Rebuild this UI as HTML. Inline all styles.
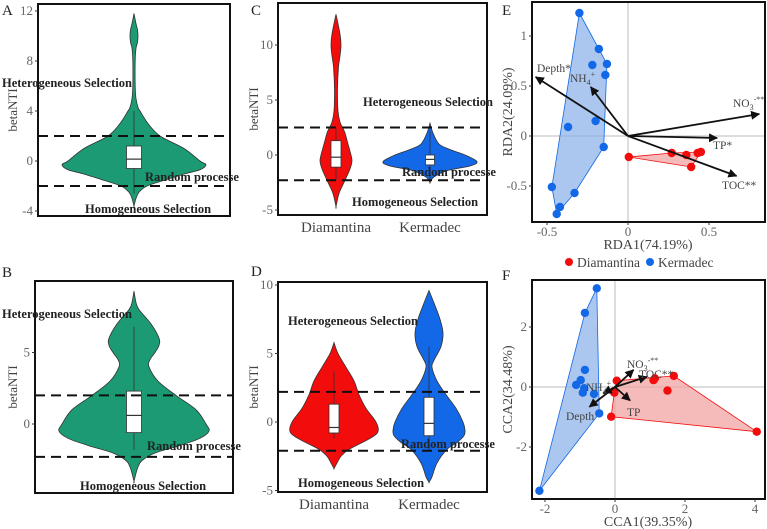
<!DOCTYPE html>
<html><head><meta charset="utf-8">
<style>
html,body{margin:0;padding:0;background:#fff;}
svg{display:block;font-family:"Liberation Serif",serif;}
.tick{font-size:13px;fill:#666;}
.ann{font-size:12.5px;font-weight:bold;fill:#222;}
.ttl{font-size:13px;fill:#444;}
.plab{font-size:15px;fill:#222;}
</style></head>
<body>
<svg id="fig" width="767" height="529" viewBox="0 0 767 529" xmlns="http://www.w3.org/2000/svg">
<defs>
<marker id="ah" viewBox="0 0 10 10" refX="9" refY="5" markerWidth="5" markerHeight="5" orient="auto"><path d="M0,0 L10,5 L0,10 z" fill="#111"/></marker>
</defs>
<g id="root"></g>
</svg>
<script>
// ---------- violin data (value, density) ----------
const violinA = [[11.8,0],[11,2],[10.5,3.5],[10,4],[9.5,3.5],[9,2],[8,1.2],[6,1.2],[5,2],[4.3,4],[4,6],[3,14],[2,26],[1,50],[0,66],[-0.3,72],[-0.7,66],[-1,52],[-1.5,32],[-2,13],[-2.5,5],[-3,2],[-3.6,0]];
const boxA = [-2.6, -0.6, 0.15, 1.2, 4.0];
const violinB = [[9.3,0],[8.5,2],[8,5],[7,17],[6,25],[5.5,25],[5,21],[4.5,16],[4,15],[3,24],[2,42],[1,62],[0,72],[-0.5,75],[-1,66],[-1.5,46],[-2,22],[-2.5,9],[-3,4],[-4,0]];
const boxB = [-1.8, -0.6, 0.6, 2.3, 6.8];
const categoriesCD = ["Diamantina","Kermadec"];
const violinCdia = [[12.8,0],[11,4],[10,5],[9,4],[8,2.5],[6,1.5],[4,2],[3,4],[2.4,7],[2,9],[1,12],[0,15],[-0.5,16],[-1,15],[-1.5,13],[-2.5,8],[-3.5,3],[-4.7,0]];
const boxCdia = [-2.3, -1.1, -0.2, 1.3, 2.4];
const violinCker = [[2.9,0],[2,3],[1,9],[0.5,20],[0,35],[-0.6,47],[-1,40],[-1.4,18],[-2,4],[-2.5,0]];
const boxCker = [-2.2, -0.9, -0.4, 0.0, 2.2];
const violinDdia = [[5.8,0],[5,4],[4,12],[3,20],[2,25],[1,32],[0,42],[-0.7,44],[-1.2,36],[-2,15],[-2.5,7],[-3,3],[-3.4,0]];
const boxDdia = [-1.2, -0.8, -0.4, 1.3, 3.7];
const violinDker = [[9.6,0],[8.5,6],[7.5,11],[6.5,14],[5.5,12],[4.5,5],[4,3],[3,8],[2,17],[1,27],[0,34],[-0.6,36],[-1,35],[-1.5,28],[-2,18],[-3,8],[-4,3],[-4.4,0]];
const boxDker = [-2.0, -1.0, -0.1, 1.8, 5.5];
// ---------- ordination data ----------
const rdaKerX = [-0.30,-0.18,-0.22,-0.13,-0.14,-0.37,-0.20,-0.15,-0.47,-0.33,-0.42,-0.44];
const rdaKerY = [1.23,0.87,0.71,0.72,0.61,0.09,0.15,-0.11,-0.51,-0.57,-0.71,-0.78];
const rdaDiaX = [0.005,0.27,0.36,0.43,0.45,0.39];
const rdaDiaY = [-0.21,-0.17,-0.19,-0.17,-0.16,-0.31];
const rdaArrowNames = ["Depth*","NH4+","NO3-**","TP*","TOC**"];
const rdaArrowX = [-0.57,-0.23,0.81,0.55,0.67];
const rdaArrowY = [0.59,0.49,0.22,-0.02,-0.40];
const ccaKerX = [-0.52,-0.86,-0.86,-0.98,-1.11,-0.88,-0.92,-0.60,-0.45,-2.16];
const ccaKerY = [3.29,2.47,0.57,0.23,0.07,-0.04,-0.19,-0.23,-0.88,-3.46];
const ccaDiaX = [0.05,-0.02,-0.11,1.10,1.14,1.68,1.50,4.05];
const ccaDiaY = [0.21,-0.19,-0.99,0.23,0.29,0.37,-0.12,-1.49];
const ccaArrowNames = ["NO3-**","TOC**","TP","Depth","NH4+"];
const ccaArrowX = [0.53,0.91,0.43,-0.73,-0.33];
const ccaArrowY = [0.57,0.34,-0.45,-0.66,-0.21];
const ticksA=[12,8,4,0,-4], ticksB=[5,0], ticksC=[10,5,0,-5], ticksD=[10,5,0,-5];
const ticksEx=[-0.5,0,0.5], ticksEy=[1,0.5,0,-0.5], ticksFx=[-2,0,2,4], ticksFy=[2,0,-2];

const NS="http://www.w3.org/2000/svg";
const root=document.getElementById('root');
function mk(tag,attrs,parent){const e=document.createElementNS(NS,tag);for(const k in attrs)e.setAttribute(k,attrs[k]);(parent||root).appendChild(e);return e;}
function txt(s,x,y,cls,anchor,parent){const t=mk('text',{x:x,y:y,class:cls,'text-anchor':anchor||'start'},parent);t.textContent=s;return t;}
function smooth(pts){let d='M'+pts[0][0]+','+pts[0][1];for(let i=0;i<pts.length-1;i++){const p0=pts[Math.max(i-1,0)],p1=pts[i],p2=pts[i+1],p3=pts[Math.min(i+2,pts.length-1)];const c1=[p1[0]+(p2[0]-p0[0])/6,p1[1]+(p2[1]-p0[1])/6],c2=[p2[0]-(p3[0]-p1[0])/6,p2[1]-(p3[1]-p1[1])/6];d+=' C'+c1[0]+','+c1[1]+' '+c2[0]+','+c2[1]+' '+p2[0]+','+p2[1];}return d;}
function hull(xs,ys){const p=xs.map((x,i)=>[x,ys[i]]).sort((a,b)=>a[0]-b[0]||a[1]-b[1]);const cr=(o,a,b)=>(a[0]-o[0])*(b[1]-o[1])-(a[1]-o[1])*(b[0]-o[0]);const lo=[],up=[];for(const q of p){while(lo.length>=2&&cr(lo[lo.length-2],lo[lo.length-1],q)<=0)lo.pop();lo.push(q);}for(const q of p.slice().reverse()){while(up.length>=2&&cr(up[up.length-2],up[up.length-1],q)<=0)up.pop();up.push(q);}return lo.slice(0,-1).concat(up.slice(0,-1));}

function violinPanel(o){
  const g=mk('g',{});
  
  
  const yS=v=>o.y0-v*o.k;
  o.series.forEach(s=>{
    const R=s.prof.map(p=>[s.cx+p[1],yS(p[0])]);
    const L=s.prof.slice().reverse().map(p=>[s.cx-p[1],yS(p[0])]);
    const v=mk('path',{d:smooth(R.concat(L))+'Z',fill:s.color,stroke:'#333','stroke-width':0.8},g);
    
    
    const b=s.box;
    const wl=mk('line',{x1:s.cx,x2:s.cx,y1:yS(b[0]),y2:yS(b[4]),stroke:'#333','stroke-width':0.8},g);
    
    
    const r=mk('rect',{x:s.cx-s.bw,y:yS(b[3]),width:2*s.bw,height:yS(b[1])-yS(b[3]),fill:'#fff',stroke:'#333','stroke-width':0.8},g);
    
    
    mk('line',{x1:s.cx-s.bw,x2:s.cx+s.bw,y1:yS(b[2]),y2:yS(b[2]),stroke:'#333','stroke-width':1.2},g);
  });
  o.dash.forEach((dv,i)=>{const l=mk('line',{x1:o.x1,x2:o.x2,y1:yS(dv),y2:yS(dv),stroke:'#111','stroke-width':2,'stroke-dasharray':'10,6'},g);
    
    });
  const fr=mk('rect',{x:o.x1,y:o.yt,width:o.x2-o.x1,height:o.yb-o.yt,fill:'none',stroke:'#111','stroke-width':2},g);
  
  
  o.ticks.forEach(t=>{mk('line',{x1:o.x1-3,x2:o.x1,y1:yS(t),y2:yS(t),stroke:'#333'},g);txt(String(t),o.x1-5,yS(t)+4,'tick','end',g);});
  const yt=txt('betaNTI',0,0,'ttl','middle',g);yt.setAttribute('transform','translate('+o.ytx+','+((o.yt+o.yb)/2)+') rotate(-90)');
  
  
  const pl=txt(o.label,o.lx,o.ly,'plab','start',g);
  
  
  o.anns.forEach(a=>{const t=txt(a[0],a[1],a[2],'ann','start',g);
    
    });
  if(o.cats){o.series.forEach((s,i)=>{const t=txt(o.cats[i],s.cx,o.yb+17,'ttl','middle',g);t.setAttribute('style','font-size:15px');
    
    });}
}
const GREEN='#1b9a74',RED='#f20c0c',BLUE='#1268e6';
violinPanel({name:'panel-a',label:'A',lx:2,ly:15,x1:38,x2:230,yt:4,yb:216,y0:161,k:12.5,ytx:17,ticks:ticksA,dash:[2,-2],
  series:[{cx:134,prof:violinA,box:boxA,bw:7.5,color:GREEN,vname:'violin-a'}],
  anns:[['Heterogeneous Selection',2,87],['Random processe',145,181],['Homogeneous Selection',85,213]]});
violinPanel({name:'panel-b',label:'B',lx:2,ly:277,x1:35,x2:233,yt:281,yb:493,y0:424,k:14.3,ytx:17,ticks:ticksB,dash:[2,-2.3],
  series:[{cx:134,prof:violinB,box:boxB,bw:7.5,color:GREEN,vname:'violin-b'}],
  anns:[['Heterogeneous Selection',2,318],['Random processe',147,450],['Homogeneous Selection',80,490]]});
violinPanel({name:'panel-c',label:'C',lx:251,ly:15,x1:278,x2:487,yt:3,yb:215,y0:155,k:11,ytx:258,ticks:ticksC,dash:[2.5,-2.3],cats:categoriesCD,
  series:[{cx:336,prof:violinCdia,box:boxCdia,bw:5,color:RED,vname:'violin-c-diamantina'},{cx:430,prof:violinCker,box:boxCker,bw:4.5,color:BLUE,vname:'violin-c-kermadec'}],
  anns:[['Heterogeneous Selection',363,106],['Random processe',402,176],['Homogeneous Selection',352,206]]});
violinPanel({name:'panel-d',label:'D',lx:251,ly:276,x1:278,x2:487,yt:282,yb:492,y0:422,k:13.7,ytx:258,ticks:ticksD,dash:[2.2,-2.1],cats:categoriesCD,
  series:[{cx:334,prof:violinDdia,box:boxDdia,bw:5,color:RED,vname:'violin-d-diamantina'},{cx:429,prof:violinDker,box:boxDker,bw:5,color:BLUE,vname:'violin-d-kermadec'}],
  anns:[['Heterogeneous Selection',288,325],['Random processe',401,448],['Homogeneous Selection',298,487]]});

function ordPanel(o){
  const g=mk('g',{});
  
  
  const X=v=>o.x0+v*o.kx, Y=v=>o.y0-v*o.ky;
  mk('line',{x1:X(0),x2:X(0),y1:o.yt,y2:o.yb,stroke:'#bbb','stroke-width':1},g);
  mk('line',{x1:o.x1,x2:o.x2,y1:Y(0),y2:Y(0),stroke:'#bbb','stroke-width':1},g);
  [[o.kx1,o.ky1,BLUE,'#8fb3ea','kermadec'],[o.dx,o.dy,RED,'#f2a3a3','diamantina']].forEach(s=>{
    const h=hull(s[0],s[1]);
    const p=mk('polygon',{points:h.map(q=>X(q[0])+','+Y(q[1])).join(' '),fill:s[3],'fill-opacity':0.75,stroke:s[2],'stroke-width':0.8},g);
    
    
  });
  [[o.kx1,o.ky1,BLUE,'kermadec'],[o.dx,o.dy,RED,'diamantina']].forEach(s=>{
    s[0].forEach((v,i)=>{const c=mk('circle',{cx:X(v),cy:Y(s[1][i]),r:4.2,fill:s[2]},g);
      
      });
  });
  o.an.forEach((n,i)=>{const l=mk('line',{x1:X(0),y1:Y(0),x2:X(o.ax[i]),y2:Y(o.ay[i]),stroke:'#111','stroke-width':1.8,'marker-end':'url(#ah)'},g);
    
    
    const lp=o.lab[i];
    const t=mk('text',{x:lp[0],y:lp[1],class:'ttl','text-anchor':'start'},g);
    t.setAttribute('style','font-size:'+o.fs+'px');
    
    
    const m=n.match(/^(NH|NO)(\d)(.*)$/);
    if(m){t.textContent=m[1];const s1=mk('tspan',{dy:3,style:'font-size:8px'},t);s1.textContent=m[2];const s2=mk('tspan',{dy:-8,style:'font-size:8px'},t);s2.textContent=m[3];}
    else t.textContent=n;
  });
  const fr=mk('rect',{x:o.x1,y:o.yt,width:o.x2-o.x1,height:o.yb-o.yt,fill:'none',stroke:'#111','stroke-width':2},g);
  
  
  o.tx.forEach(t=>{mk('line',{x1:X(t),x2:X(t),y1:o.yb,y2:o.yb+3,stroke:'#333'},g);txt(String(t),X(t),o.yb+14,'tick','middle',g);});
  o.ty.forEach(t=>{mk('line',{x1:o.x1-3,x2:o.x1,y1:Y(t),y2:Y(t),stroke:'#333'},g);txt(String(t),o.x1-5,Y(t)+4,'tick','end',g);});
  const xt=txt(o.xt,648,o.yb+27,'ttl','middle',g);xt.setAttribute('style','font-size:14px');
  
  
  const yt=txt(o.ytl,0,0,'ttl','middle',g);yt.setAttribute('style','font-size:14px');yt.setAttribute('transform','translate(512,'+((o.yt+o.yb)/2)+') rotate(-90)');
  
  
  const pl=txt(o.label,502,o.ly,'plab','start',g);
  
  
}
ordPanel({name:'panel-e-rda',label:'E',ly:15,x1:532,x2:765,yt:2,yb:222,x0:628,kx:162,y0:136,ky:100,fs:11.5,
  kx1:rdaKerX,ky1:rdaKerY,dx:rdaDiaX,dy:rdaDiaY,an:rdaArrowNames,ax:rdaArrowX,ay:rdaArrowY,
  lab:[[537,72],[570,82],[733,107],[713,149],[722,189]],tx:ticksEx,ty:ticksEy,xt:'RDA1(74.19%)',ytl:'RDA2(24.09%)'});
ordPanel({name:'panel-f-cca',label:'F',ly:280,x1:532,x2:765,yt:280,yb:499,x0:615,kx:35,y0:387,ky:30,fs:11.5,
  kx1:ccaKerX,ky1:ccaKerY,dx:ccaDiaX,dy:ccaDiaY,an:ccaArrowNames,ax:ccaArrowX,ay:ccaArrowY,
  lab:[[627,368],[639,378],[627,416],[566,420],[586,391]],tx:ticksFx,ty:ticksFy,xt:'CCA1(39.35%)',ytl:'CCA2(34.48%)'});
// legend
const lg=mk('g',{});


[[569,'Diamantina',RED],[650,'Kermadec',BLUE]].forEach(e=>{
  const c=mk('circle',{cx:e[0],cy:262,r:4,fill:e[2]},lg);
  
  
  const t=txt(e[1],e[0]+8,267,'ttl','start',lg);t.setAttribute('style','font-size:13.5px');
  
  
});
</script>
</body></html>
